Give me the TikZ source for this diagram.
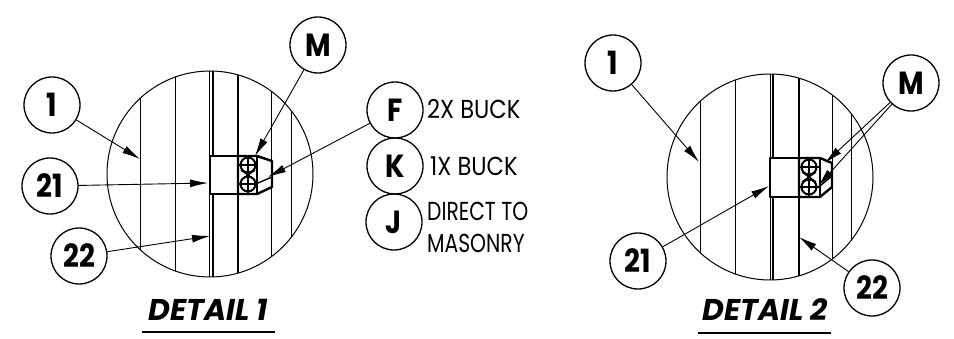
\documentclass[tikz,border=0pt]{standalone}
\usepackage{fontspec}
\setmainfont{Poppins}
\newfontfamily\narrowfont[FakeStretch=0.87]{Poppins}
\newfontfamily\tightfont[FakeStretch=0.78]{Poppins}
\usetikzlibrary{arrows.meta}

\tikzset{
  bubble/.style={draw, circle, line width=1.3pt, minimum size=56pt, inner sep=0pt, font=\narrowfont\fontsize{32}{32}\selectfont\bfseries},
  leader/.style={line width=0.9pt, -{Latex[length=18pt,width=8pt]}},
  wall/.style={line width=1pt},
  heavywall/.style={line width=2pt},
  callout/.style={anchor=west, align=left, inner sep=0pt, font=\narrowfont\fontsize{26}{32}\selectfont},
  title/.style={inner sep=0pt, font=\fontsize{30}{30}\selectfont\bfseries\itshape},
  buck/.style={line width=2.4pt, line join=round},
  mesh/.style={line width=1.5pt}
}

\begin{document}
\begin{tikzpicture}[x=1pt, y=-1pt]
  \useasboundingbox (0,0) rectangle (954,339);

  % detail 1
  \begin{scope}
    \clip (210,174) circle (103);
    \foreach \wallx in {140,175,271,291}
      \draw[wall] (\wallx,60) -- (\wallx,290);
    \draw[wall] (209.5,60) -- (209.5,290);
    \draw[heavywall] (212.5,60) -- (212.5,290);
    \draw[heavywall] (238,60) -- (238,290);
  \end{scope}
  \draw[line width=1pt] (210,174) circle (103);
  \draw[buck, fill=white] (210,156) rectangle (238,194);
  \draw[buck, fill=white] (238,156) -- (257,156) -- (272,161) -- (272,187) -- (257,194) -- (238,194) -- cycle;
  \draw[buck] (257,156) -- (257,194);
  \draw[buck, line width=1.4pt] (258,183) -- (272,177);
  \foreach \rowy in {165,184}{
    \draw[line width=2pt] (248,\rowy) circle (7.5);
    \draw[mesh] (238,\rowy) -- (257,\rowy);
    \draw[mesh] (248,\rowy-9) -- (248,\rowy+9);
  }
  \draw[mesh] (241,170) -- (255,180);
  \draw[mesh] (255,170) -- (241,180);

  \coordinate (m1tip) at (255,156);
  \coordinate (f1tip) at (268,177);
  \coordinate (one1tip) at (140,159);
  \coordinate (tw1tip) at (208,183);
  \coordinate (tt1tip) at (210,236);

  \node[bubble] (m1) at (318,45) {M};
  \node[bubble] (one1) at (52,105) {1};
  \node[bubble] (tw1) at (50,186) {21};
  \node[bubble] (tt1) at (79,256) {22};
  \node[bubble] (f1) at (395,110) {F};
  \node[bubble] (k1) at (395,166) {K};
  \node[bubble] (j1) at (394,222) {J};

  \node[callout] (f1txt) at (427,109) {2X BUCK};
  \node[callout] (k1txt) at (430,166) {1X BUCK};
  \node[callout, font=\tightfont\fontsize{26}{32}\selectfont] (j1txt) at (427,227) {DIRECT TO\\MASONRY};

  \draw[leader] (m1) -- (m1tip);
  \draw[leader] (f1) -- (f1tip);
  \draw[leader] (one1) -- (one1tip);
  \draw[leader] (tw1) -- (tw1tip);
  \draw[leader] (tt1) -- (tt1tip);

  \node[title] (d1txt) at (208,310) {DETAIL 1};
  \coordinate (d1a) at (142,332);
  \coordinate (d1b) at (275,332);
  \draw[line width=1.4pt] (d1a) -- (d1b);

  % detail 2
  \begin{scope}
    \clip (770,177) circle (103);
    \foreach \wallx in {700,735,832,851}
      \draw[wall] (\wallx,60) -- (\wallx,290);
    \draw[wall] (770,60) -- (770,290);
    \draw[heavywall] (773,60) -- (773,290);
    \draw[heavywall] (799,60) -- (799,290);
  \end{scope}
  \draw[line width=1pt] (770,177) circle (103);
  \draw[buck, fill=white] (770,158) rectangle (799,197);
  \draw[buck, fill=white] (799,158) -- (820,158) -- (832,163) -- (832,187) -- (820,197) -- (799,197) -- cycle;
  \draw[buck] (820,158) -- (820,197);
  \draw[buck, line width=1.4pt] (820,186) -- (832,176);
  \foreach \rowy in {167,187}{
    \draw[line width=2pt] (809,\rowy) circle (7.5);
    \draw[mesh] (799,\rowy) -- (820,\rowy);
    \draw[mesh] (809,\rowy-9) -- (809,\rowy+9);
  }
  \draw[mesh] (802,172) -- (816,182);
  \draw[mesh] (816,172) -- (802,182);

  \coordinate (m2tipa) at (825,163);
  \coordinate (m2tipb) at (818,186);
  \coordinate (one2tip) at (699,162);
  \coordinate (tw2tip) at (769,186);
  \coordinate (tt2tip) at (799,237);

  \node[bubble] (m2) at (911,83) {M};
  \node[bubble] (one2) at (613,63) {1};
  \node[bubble] (tw2) at (638,261) {21};
  \node[bubble] (tt2) at (872,288) {22};

  \draw[leader] (m2) -- (m2tipa);
  \draw[leader] (m2) -- (m2tipb);
  \draw[leader] (one2) -- (one2tip);
  \draw[leader] (tw2) -- (tw2tip);
  \draw[leader] (tt2) -- (tt2tip);

  \node[title] (d2txt) at (765,310) {DETAIL 2};
  \coordinate (d2a) at (698,333);
  \coordinate (d2b) at (831,333);
  \draw[line width=1.4pt] (d2a) -- (d2b);
\end{tikzpicture}
\end{document}
